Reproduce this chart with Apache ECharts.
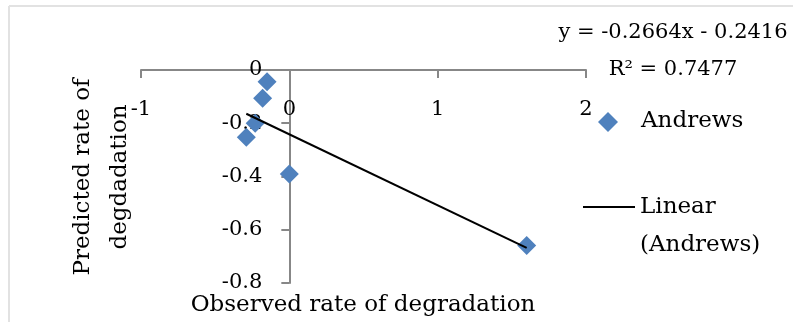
<!DOCTYPE html>
<html><head><meta charset="utf-8">
<script src="https://cdn.jsdelivr.net/npm/echarts@6/dist/echarts.min.js"></script>
<style>html,body{margin:0;padding:0;background:#fff}#c{width:793px;height:322px}</style>
</head><body><div id="c"></div>
<script>
const seriesName = 'Andrews';
const observed = [-0.15, -0.18, -0.23, -0.29, 0.0, 1.60];
const predicted = [-0.044, -0.106, -0.20, -0.253, -0.391, -0.659];
const trendSlope = -0.2664;
const trendIntercept = -0.2416;
const equationText = 'y = -0.2664x - 0.2416';
const r2Text = 'R² = 0.7477';
const xTitle = 'Observed rate of degradation';
const yTitle = 'Predicted rate of\ndegdadation';
const trendLegend = ['Linear', '(Andrews)'];

const FONT = 'DejaVu Serif';
const FS = 23;
const FSN = 21;
const BLUE = '#4F81BD';
const AX = '#878787';
const font = s => s + 'px "' + FONT + '"';

const pts = observed.map((x, i) => [x, predicted[i]]);
const xmin = Math.min(...observed), xmax = Math.max(...observed);
const trend = [[xmin, trendSlope * xmin + trendIntercept], [xmax, trendSlope * xmax + trendIntercept]];

const G = { left: 141, right: 207, top: 70, bottom: 39 };
const plotW = 793 - G.left - G.right, plotH = 322 - G.top - G.bottom;
const XMIN = -1, XMAX = 2, YMIN = -0.8, YMAX = 0;
// place axes where the other axis crosses zero (labels follow the lines)
const xOffset = -plotH * (0 - YMIN) / (YMAX - YMIN);
const yOffset = -plotW * (0 - XMIN) / (XMAX - XMIN);

const chart = echarts.init(document.getElementById('c'));
chart.setOption({
  backgroundColor: '#fff',
  animation: false,
  grid: G,
  xAxis: {
    type: 'value', min: XMIN, max: XMAX, interval: 1, position: 'bottom', offset: xOffset,
    axisLine: { onZero: false, lineStyle: { color: AX, width: 2 } },
    axisTick: { show: true, length: 8, lineStyle: { color: AX, width: 2 } },
    axisLabel: { margin: 29, color: '#000', fontFamily: FONT, fontSize: FSN },
    splitLine: { show: false }
  },
  yAxis: {
    type: 'value', min: YMIN, max: YMAX, interval: 0.2, position: 'left', offset: yOffset,
    axisLine: { show: true, onZero: false, lineStyle: { color: AX, width: 2 } },
    axisTick: { show: true, length: 8, lineStyle: { color: AX, width: 2 } },
    axisLabel: { margin: 27, color: '#000', fontFamily: FONT, fontSize: FSN },
    splitLine: { show: false }
  },
  series: [
    { name: seriesName, type: 'scatter', data: pts, symbol: 'diamond', symbolSize: 19,
      itemStyle: { color: BLUE, opacity: 1 }, z: 2 },
    { name: 'Linear (' + seriesName + ')', type: 'line', data: trend, symbol: 'none',
      lineStyle: { color: '#000', width: 2 }, z: 3 }
  ],
  graphic: [
    { type: 'line', shape: { x1: 9, y1: 6, x2: 793, y2: 6 }, style: { stroke: '#e2e2e2', lineWidth: 2 } },
    { type: 'line', shape: { x1: 9, y1: 6, x2: 9, y2: 322 }, style: { stroke: '#e2e2e2', lineWidth: 2 } },
    { type: 'text', x: 363, y: 305, style: { text: xTitle, font: font(FS), fill: '#000', textAlign: 'center', textVerticalAlign: 'middle' } },
    { type: 'text', x: 102, y: 177, rotation: Math.PI / 2,
      style: { text: yTitle, font: font(FS), fill: '#000', textAlign: 'center', textVerticalAlign: 'middle', lineHeight: 37 } },
    { type: 'text', x: 673, y: 33, style: { text: equationText, font: font(FSN), fill: '#000', textAlign: 'center', textVerticalAlign: 'middle' } },
    { type: 'text', x: 673, y: 70, style: { text: r2Text, font: font(FSN), fill: '#000', textAlign: 'center', textVerticalAlign: 'middle' } },
    { type: 'polygon', shape: { points: [[608, 112], [618, 122], [608, 132], [598, 122]] }, style: { fill: BLUE } },
    { type: 'text', x: 641, y: 121, style: { text: seriesName, font: font(FS), fill: '#000', textVerticalAlign: 'middle' } },
    { type: 'line', shape: { x1: 583, y1: 207, x2: 635, y2: 207 }, style: { stroke: '#000', lineWidth: 2 } },
    { type: 'text', x: 640, y: 207, style: { text: trendLegend[0], font: font(FS), fill: '#000', textVerticalAlign: 'middle' } },
    { type: 'text', x: 640, y: 245, style: { text: trendLegend[1], font: font(FS), fill: '#000', textVerticalAlign: 'middle' } }
  ]
});
</script></body></html>
